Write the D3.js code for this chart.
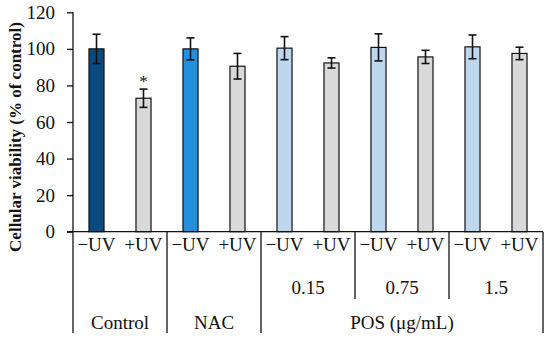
<!DOCTYPE html>
<html><head><meta charset="utf-8">
<script src="https://cdn.jsdelivr.net/npm/d3@7"></script>
<style>body{margin:0;background:#fff}svg{display:block}</style>
</head><body><svg id="c" width="550" height="341"></svg>
<script>
const conditions = ["−UV","+UV","−UV","+UV","−UV","+UV","−UV","+UV","−UV","+UV"];
const values = [100, 73, 100, 90.5, 100.4, 92.3, 100.8, 95.6, 101.1, 97.5];
const errors = [8, 5, 6, 7, 6.3, 2.8, 7.4, 3.6, 6.5, 3.4];
const colors = ["#0a4a83","#d9d9d9","#2390de","#d9d9d9","#bdd7ee","#d9d9d9","#bdd7ee","#d9d9d9","#bdd7ee","#d9d9d9"];
const level2 = [{label:"",from:0,to:1},{label:"",from:2,to:3},{label:"0.15",from:4,to:5},{label:"0.75",from:6,to:7},{label:"1.5",from:8,to:9}];
const level3 = [{label:"Control",from:0,to:1},{label:"NAC",from:2,to:3},{label:"POS (μg/mL)",from:4,to:9}];
const yTicks = [0,20,40,60,80,100,120];
const marks = [{index:1,text:"*"}];

const FF = "'Liberation Serif', 'Times New Roman', 'DejaVu Serif', serif";
const svg = d3.select("#c");
const x0 = 73, x1 = 543, yBottom = 231.7, yTop = 12.3;
const x = d3.scaleBand().domain(d3.range(values.length)).range([x0, x1]).paddingInner(0.68).paddingOuter(0.34);
const y = d3.scaleLinear().domain([0,120]).range([yBottom, yTop]);

function txt(sel){ return sel.style("font-family", FF).style("fill", "#111"); }

// y axis
const ya = svg.append("g").attr("transform", `translate(${x0},0)`)
  .call(d3.axisLeft(y).tickValues(yTicks).tickSize(6).tickPadding(12));
ya.attr("font-family", null).attr("font-size", null);
ya.selectAll("path,line").attr("stroke","#111").attr("stroke-width",1.3);
ya.select(".domain").attr("d", `M0,${yTop}V${yBottom}`);
txt(ya.selectAll("text")).style("font-size","19px");

// bars
svg.selectAll("rect.bar").data(values).join("rect").attr("class","bar")
  .attr("x",(d,i)=>x(i)).attr("width",x.bandwidth())
  .attr("y",d=>y(d)).attr("height",d=>yBottom-y(d))
  .attr("fill",(d,i)=>colors[i]).attr("stroke","#111").attr("stroke-width",1.2);

// error bars
const eb = svg.append("g").attr("stroke","#111").attr("stroke-width",1.6);
values.forEach((v,i)=>{
  const cx = x(i)+x.bandwidth()/2;
  eb.append("line").attr("x1",cx).attr("x2",cx).attr("y1",y(v+errors[i])).attr("y2",y(v-errors[i]));
  [v+errors[i], v-errors[i]].forEach(e=>eb.append("line").attr("x1",cx-4).attr("x2",cx+4).attr("y1",y(e)).attr("y2",y(e)));
});

// significance
marks.forEach(m=>{
  const cx = x(m.index)+x.bandwidth()/2;
  txt(svg.append("text").attr("x",cx).attr("y",y(values[m.index]+errors[m.index])-2)
    .attr("text-anchor","middle")).style("font-size","17px").text(m.text);
});

// x axis line
svg.append("line").attr("x1",67).attr("x2",x1).attr("y1",yBottom).attr("y2",yBottom).attr("stroke","#111").attr("stroke-width",1.3);

const step = x.step();
const edge = i => x0 + step*i;
const g = svg.append("g").attr("stroke","#111").attr("stroke-width",1.3);
// level 1 labels
conditions.forEach((c,i)=>{
  txt(svg.append("text").attr("x",x(i)+x.bandwidth()/2).attr("y",251).attr("text-anchor","middle")).style("font-size","19px").text(c);
});
// level 2 separators & labels
level2.forEach(l=>{
  if(l.label) txt(svg.append("text").attr("x",(edge(l.from)+edge(l.to+1))/2).attr("y",294).attr("text-anchor","middle")).style("font-size","19px").text(l.label);
});
[6,8].forEach(b=>g.append("line").attr("x1",edge(b)).attr("x2",edge(b)).attr("y1",yBottom).attr("y2",299));
// level 3 separators & labels
level3.forEach(l=>{
  txt(svg.append("text").attr("x",(edge(l.from)+edge(l.to+1))/2).attr("y",329).attr("text-anchor","middle")).style("font-size","19px").text(l.label);
});
[0,2,4,10].forEach(b=>g.append("line").attr("x1",edge(b)).attr("x2",edge(b)).attr("y1",yBottom).attr("y2",333));

// y title
txt(svg.append("text").attr("transform",`translate(21,${(yTop+yBottom)/2+15}) rotate(-90)`)
  .attr("text-anchor","middle")).style("font-size","17px").style("font-weight","bold").text("Cellular viability (% of control)");
</script></body></html>
